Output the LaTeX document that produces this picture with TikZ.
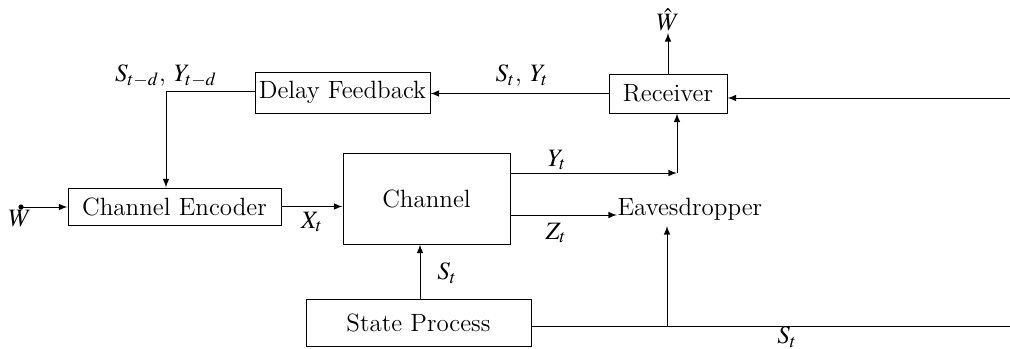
\documentclass[tikz,border=0pt]{standalone}
\usepackage{fontspec}
\setmainfont{Liberation Serif}
\usepackage{mathptmx}
\usetikzlibrary{arrows}

\tikzset{every picture/.style={line width=0.5pt}}
\tikzset{blockbox/.style={draw, rectangle, inner sep=0pt, font=\fontsize{12.5}{15}\selectfont}}
\tikzset{sigtext/.style={font=\fontsize{12.5}{15}\selectfont}}

\begin{document}
\begin{tikzpicture}[x=0.5pt,y=0.5pt,yscale=-1,xscale=1,>=latex]
	\useasboundingbox (0,0) rectangle (1010,348);

	%Shape: Rectangle [delay]
	\node [blockbox, minimum width=87.5pt, minimum height=20.5pt] (delay) at (342.5,92.5) {Delay Feedback};
	%Shape: Rectangle [receiver]
	\node [blockbox, minimum width=59pt, minimum height=19.5pt] (receiver) at (668,93.5) {Receiver};
	%Shape: Rectangle [channel]
	\node [blockbox, minimum width=83.5pt, minimum height=45.5pt] (channel) at (426.5,198.5) {Channel};
	%Shape: Rectangle [encoder]
	\node [blockbox, minimum width=106.5pt, minimum height=18.5pt] (encoder) at (174.5,206.5) {Channel Encoder};
	%Shape: Rectangle [state]
	\node [blockbox, minimum width=112.5pt, minimum height=23.5pt] (state) at (418.5,322.5) {State Process};
	% Text Node
	\node [sigtext, anchor=west, inner sep=0pt] (eaves) at (617,209) {Eavesdropper};

	% Coordinates
	\coordinate (rin) at (1010,98);
	\coordinate (what) at (668,33);
	\coordinate (fb) at (166,91);
	\coordinate (win) at (21,207);
	\coordinate (ycorner) at (677,173);
	\coordinate (zt) at (510,215);
	\coordinate (sout) at (1010,326);
	\coordinate (ebase) at (667,326);

	%Straight Lines [feedback]
	\draw [->] (receiver.west) -- (receiver.west -| delay.east);
	\draw [->] (rin) -- (rin -| receiver.east);
	\draw [->] (receiver.north) -- (what);
	\draw [->] (delay.west |- fb) -- (fb) -- (fb |- encoder.north);
	%Straight Lines [forward]
	\fill (win) circle (1.3pt);
	\draw [->] (win) -- (win -| encoder.west);
	\draw [->] (encoder.east) -- (encoder.east -| channel.west);
	\draw [->] (ycorner -| channel.east) -- (ycorner);
	\draw [->] (ycorner) -- (ycorner |- receiver.south);
	\draw [->] (zt) -- (zt -| eaves.west);
	%Straight Lines [state]
	\draw [->] (state.north -| 420,0) -- (channel.south -| 420,0);
	\draw (state.east |- sout) -- (sout);
	\draw [->] (ebase) -- (667,226);

	% Text Node
	\draw (166,76) node [sigtext] {$S_{t-d}$, $Y_{t-d}$};
	% Text Node
	\draw (522,76) node [sigtext] {$S_t$, $Y_t$};
	% Text Node
	\draw (what) node [sigtext, above, inner sep=1pt] {$\hat{W}$};
	% Text Node
	\draw (557,160) node [sigtext] {$Y_t$};
	% Text Node
	\draw (556,233) node [sigtext] {$Z_t$};
	% Text Node
	\draw (312,222) node [sigtext] {$X_t$};
	% Text Node
	\draw (20,219) node [sigtext] {$W$};
	% Text Node
	\draw (447,273) node [sigtext] {$S_t$};
	% Text Node
	\draw (787,337) node [sigtext] {$S_t$};

\end{tikzpicture}
\end{document}
